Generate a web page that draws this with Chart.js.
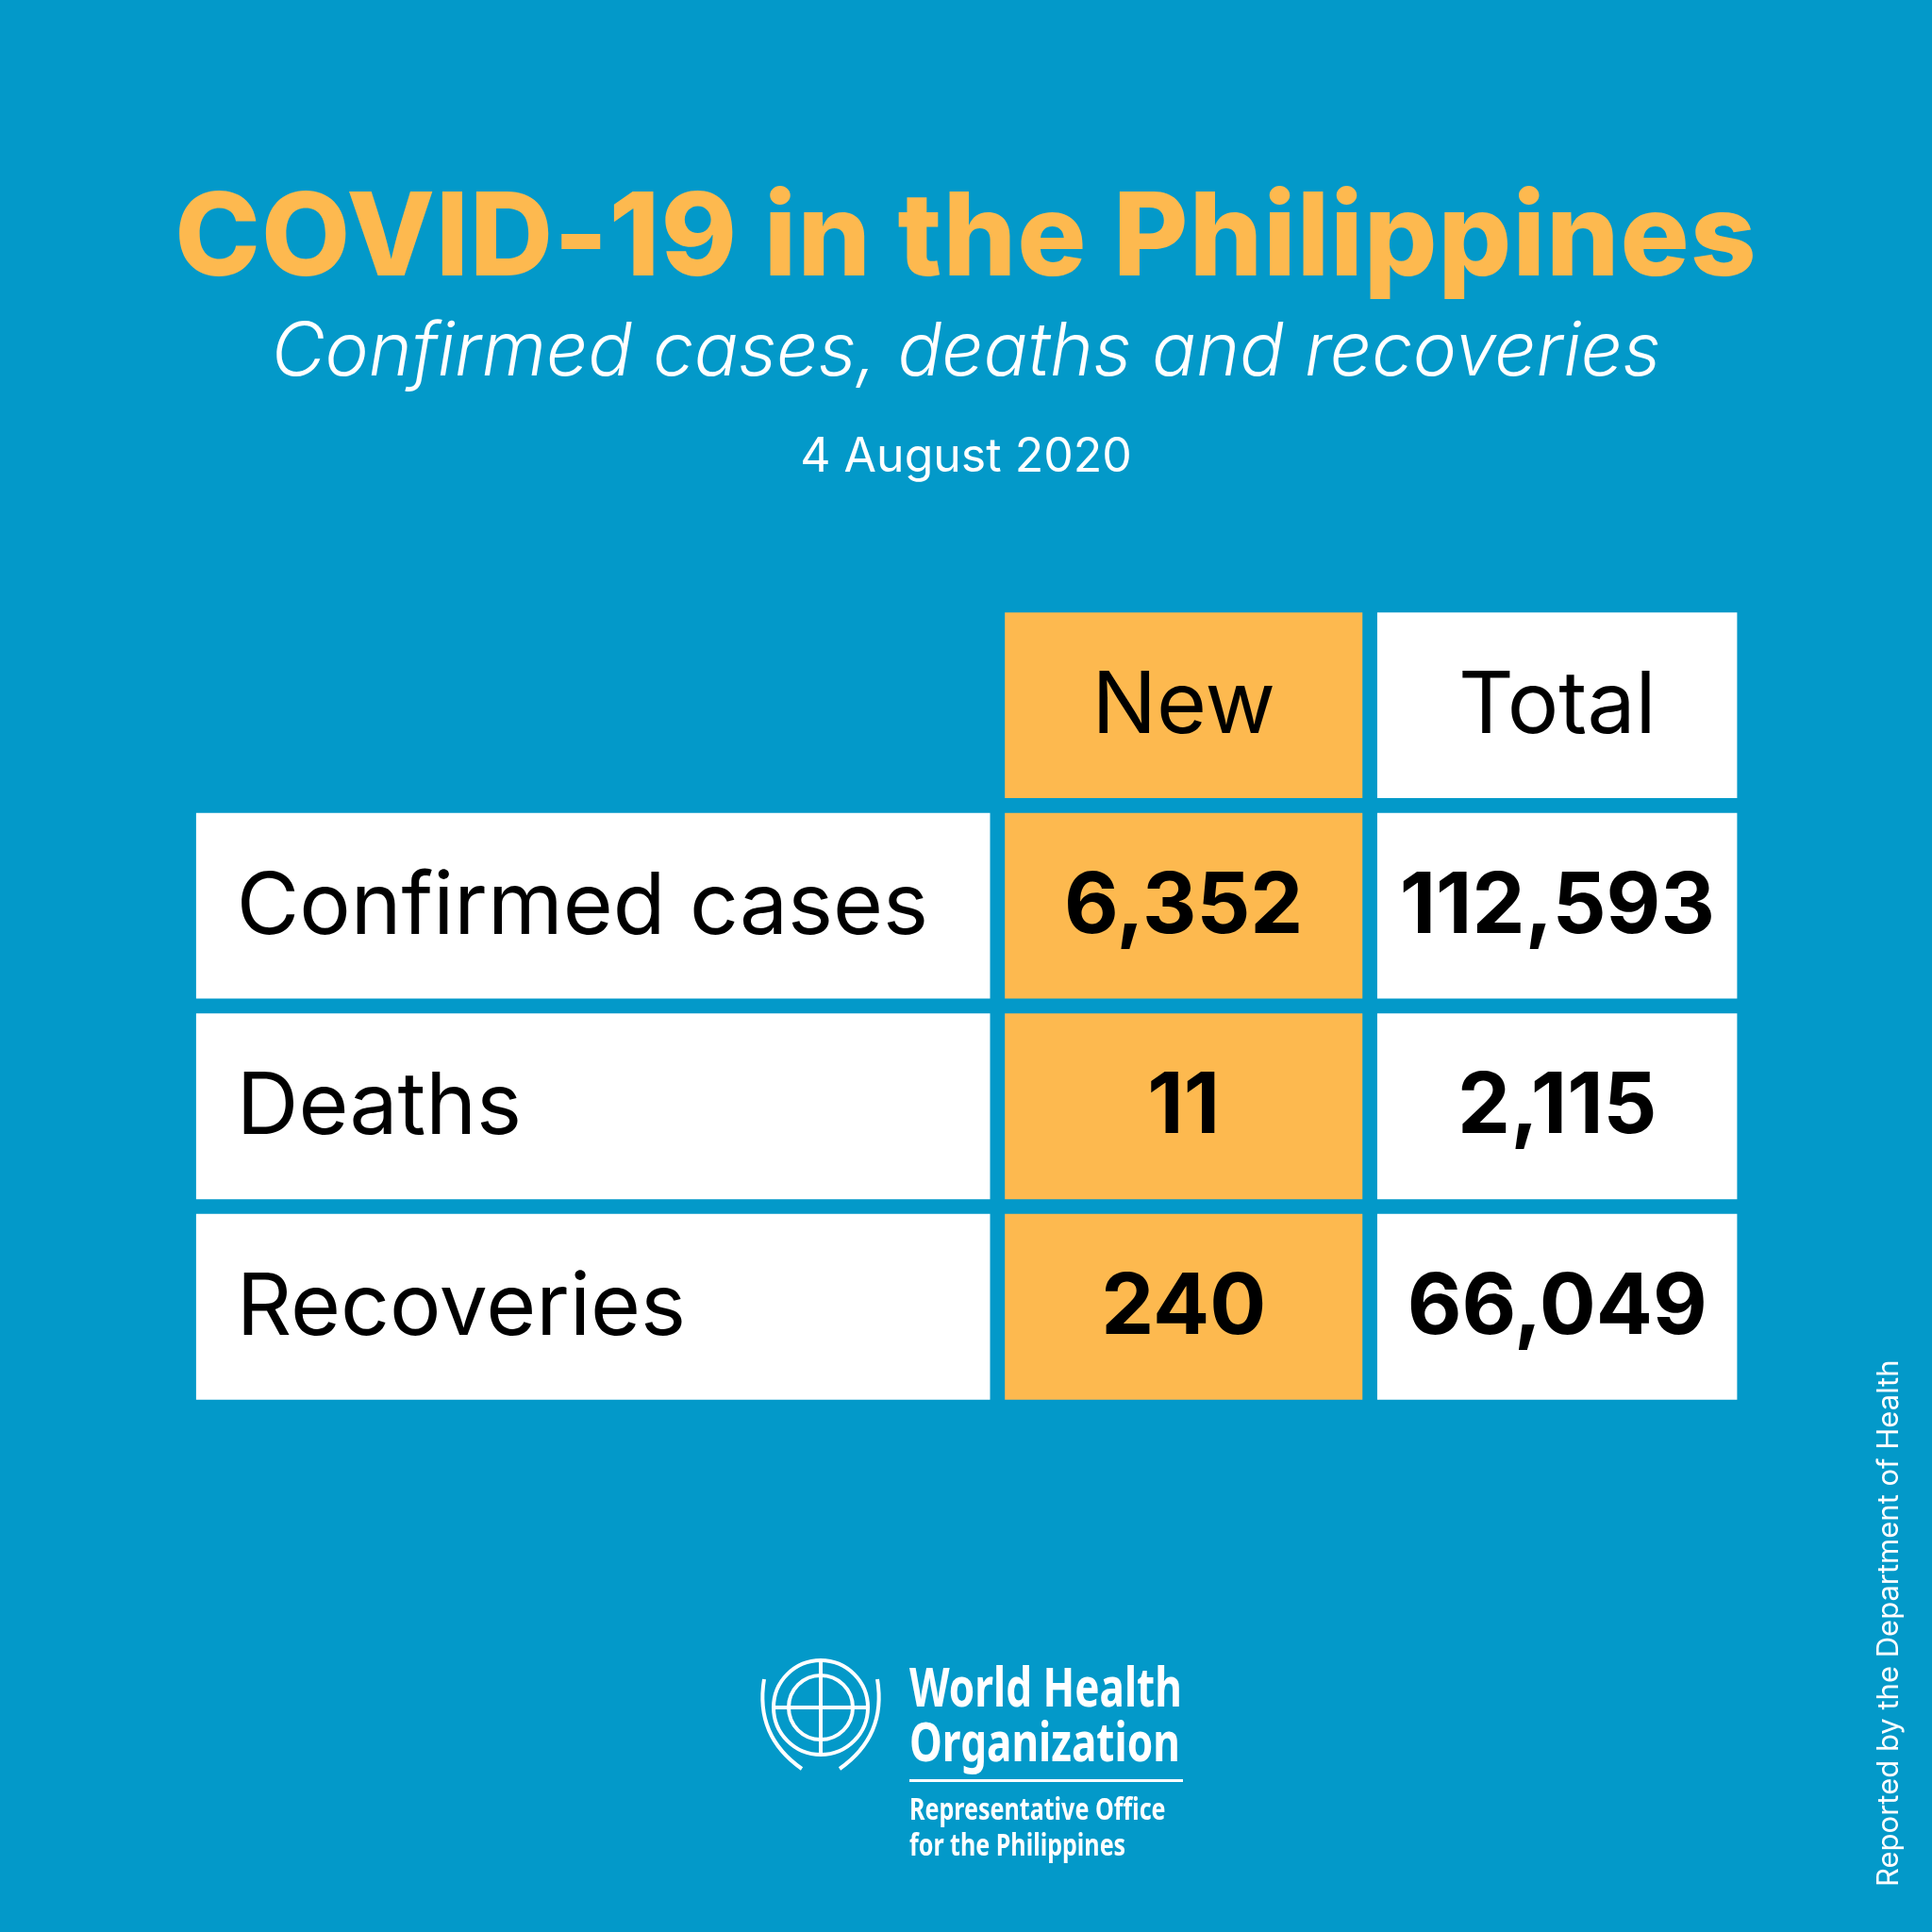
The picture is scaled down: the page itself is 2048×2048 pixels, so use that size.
<!DOCTYPE html>
<html>
<head>
<meta charset="utf-8">
<script src="https://cdn.jsdelivr.net/npm/chart.js@4"></script>
<style>
  html, body { margin:0; padding:0; background:#0399c9; }
  #wrap { position:relative; width:2048px; height:2048px; background:#0399c9; overflow:hidden; font-family:Inter, "Noto Sans", sans-serif; }
  canvas { position:absolute; left:0; top:0; }
  .t { position:absolute; left:0; width:2048px; text-align:center; white-space:nowrap; }
  .who { position:absolute; left:964px; color:#fff; font-family:"Noto Sans", sans-serif; font-weight:bold; transform:scaleX(0.76); transform-origin:0 0; white-space:nowrap; }
</style>
</head>
<body>
<div id="wrap">
  <canvas id="Chart" width="2048" height="2048"></canvas>
  <div class="t" style="top:174px;font-size:122px;font-weight:800;color:#fdb94f;letter-spacing:1px">COVID-19 in the Philippines</div>
  <div class="t" style="top:322px;font-size:78px;font-style:italic;font-weight:300;color:#fff">Confirmed cases, deaths and recoveries</div>
  <div class="t" style="top:452px;font-size:50px;color:#fff">4 August 2020</div>
  <div class="who" style="top:1758px;font-size:58px;line-height:58px">World Health<br>Organization</div>
  <div style="position:absolute;left:964px;top:1886px;width:290px;border-top:3px solid #fff"></div>
  <div class="who" style="top:1898px;font-size:33px;line-height:38px">Representative Office<br>for the Philippines</div>
  <svg style="position:absolute;left:790px;top:1740px" width="160" height="150" viewBox="0 0 160 150">
    <g fill="none" stroke="#fff" stroke-width="4">
      <circle cx="80" cy="70" r="50"/><circle cx="80" cy="70" r="34"/>
      <line x1="30" y1="70" x2="130" y2="70"/><line x1="80" y1="20" x2="80" y2="120"/>
      <path d="M20 40 Q10 100 60 135 M140 40 Q150 100 100 135"/>
    </g>
  </svg>
  <div style="position:absolute;left:1982px;top:2000px;transform:rotate(-90deg);transform-origin:0 0;color:#fff;font-size:31px;white-space:nowrap">Reported by the Department of Health</div>
</div>
<script>
const S = 2048 / 1568;
const rows = ['', 'Confirmed cases', 'Deaths', 'Recoveries'];
const headers = ['New', 'Total'];
const newVals = ['6,352', '11', '240'];
const totalVals = ['112,593', '2,115', '66,049'];

const labelCol = [null, [0, 644], [0, 644], [0, 644]];
const newCol = [[656, 946], [656, 946], [656, 946], [656, 946]];
const totalCol = [[958, 1250], [958, 1250], [958, 1250], [958, 1250]];

const cellText = {
    id: 'cellText',
    afterDatasetsDraw(chart) {
        const c = chart.ctx;
        c.save();
        c.fillStyle = '#000';
        c.textBaseline = 'middle';
        const fr = Math.round(70 * S);
        const fb = Math.round(68 * S);
        chart.getDatasetMeta(0).data.forEach((bar, i) => {
            if (i === 0) return;
            c.font = `400 ${fr}px Inter, "Noto Sans"`;
            c.textAlign = 'left';
            c.fillText(rows[i], bar.base + 33 * S, bar.y + 2);
        });
        [[1, newVals], [2, totalVals]].forEach(([d, vals]) => {
            chart.getDatasetMeta(d).data.forEach((bar, i) => {
                const cx = (bar.x + bar.base) / 2;
                c.textAlign = 'center';
                if (i === 0) {
                    c.font = `400 ${fr}px Inter, "Noto Sans"`;
                    c.fillText(headers[d - 1], cx, bar.y + 2);
                } else {
                    c.font = `700 ${fb}px Inter, "Noto Sans"`;
                    c.fillText(vals[i - 1], cx, bar.y + 2);
                }
            });
        });
        c.restore();
    }
};

new Chart(document.getElementById('Chart'), {
    type: 'bar',
    data: {
        labels: rows,
        datasets: [
            { data: labelCol, backgroundColor: '#ffffff' },
            { data: newCol, backgroundColor: '#fdb94f' },
            { data: totalCol, backgroundColor: '#ffffff' }
        ]
    },
    options: {
        indexAxis: 'y',
        responsive: false,
        animation: false,
        grouped: false,
        categoryPercentage: 1,
        barPercentage: 151 / 163,
        borderSkipped: false,
        layout: { padding: { left: 159 * S, right: 158 * S, top: 491 * S, bottom: 426 * S } },
        scales: {
            x: { type: 'linear', min: 0, max: 1250, display: false },
            y: { display: false }
        },
        plugins: { legend: { display: false }, tooltip: { enabled: false } }
    },
    plugins: [cellText]
});
</script>
</body>
</html>
